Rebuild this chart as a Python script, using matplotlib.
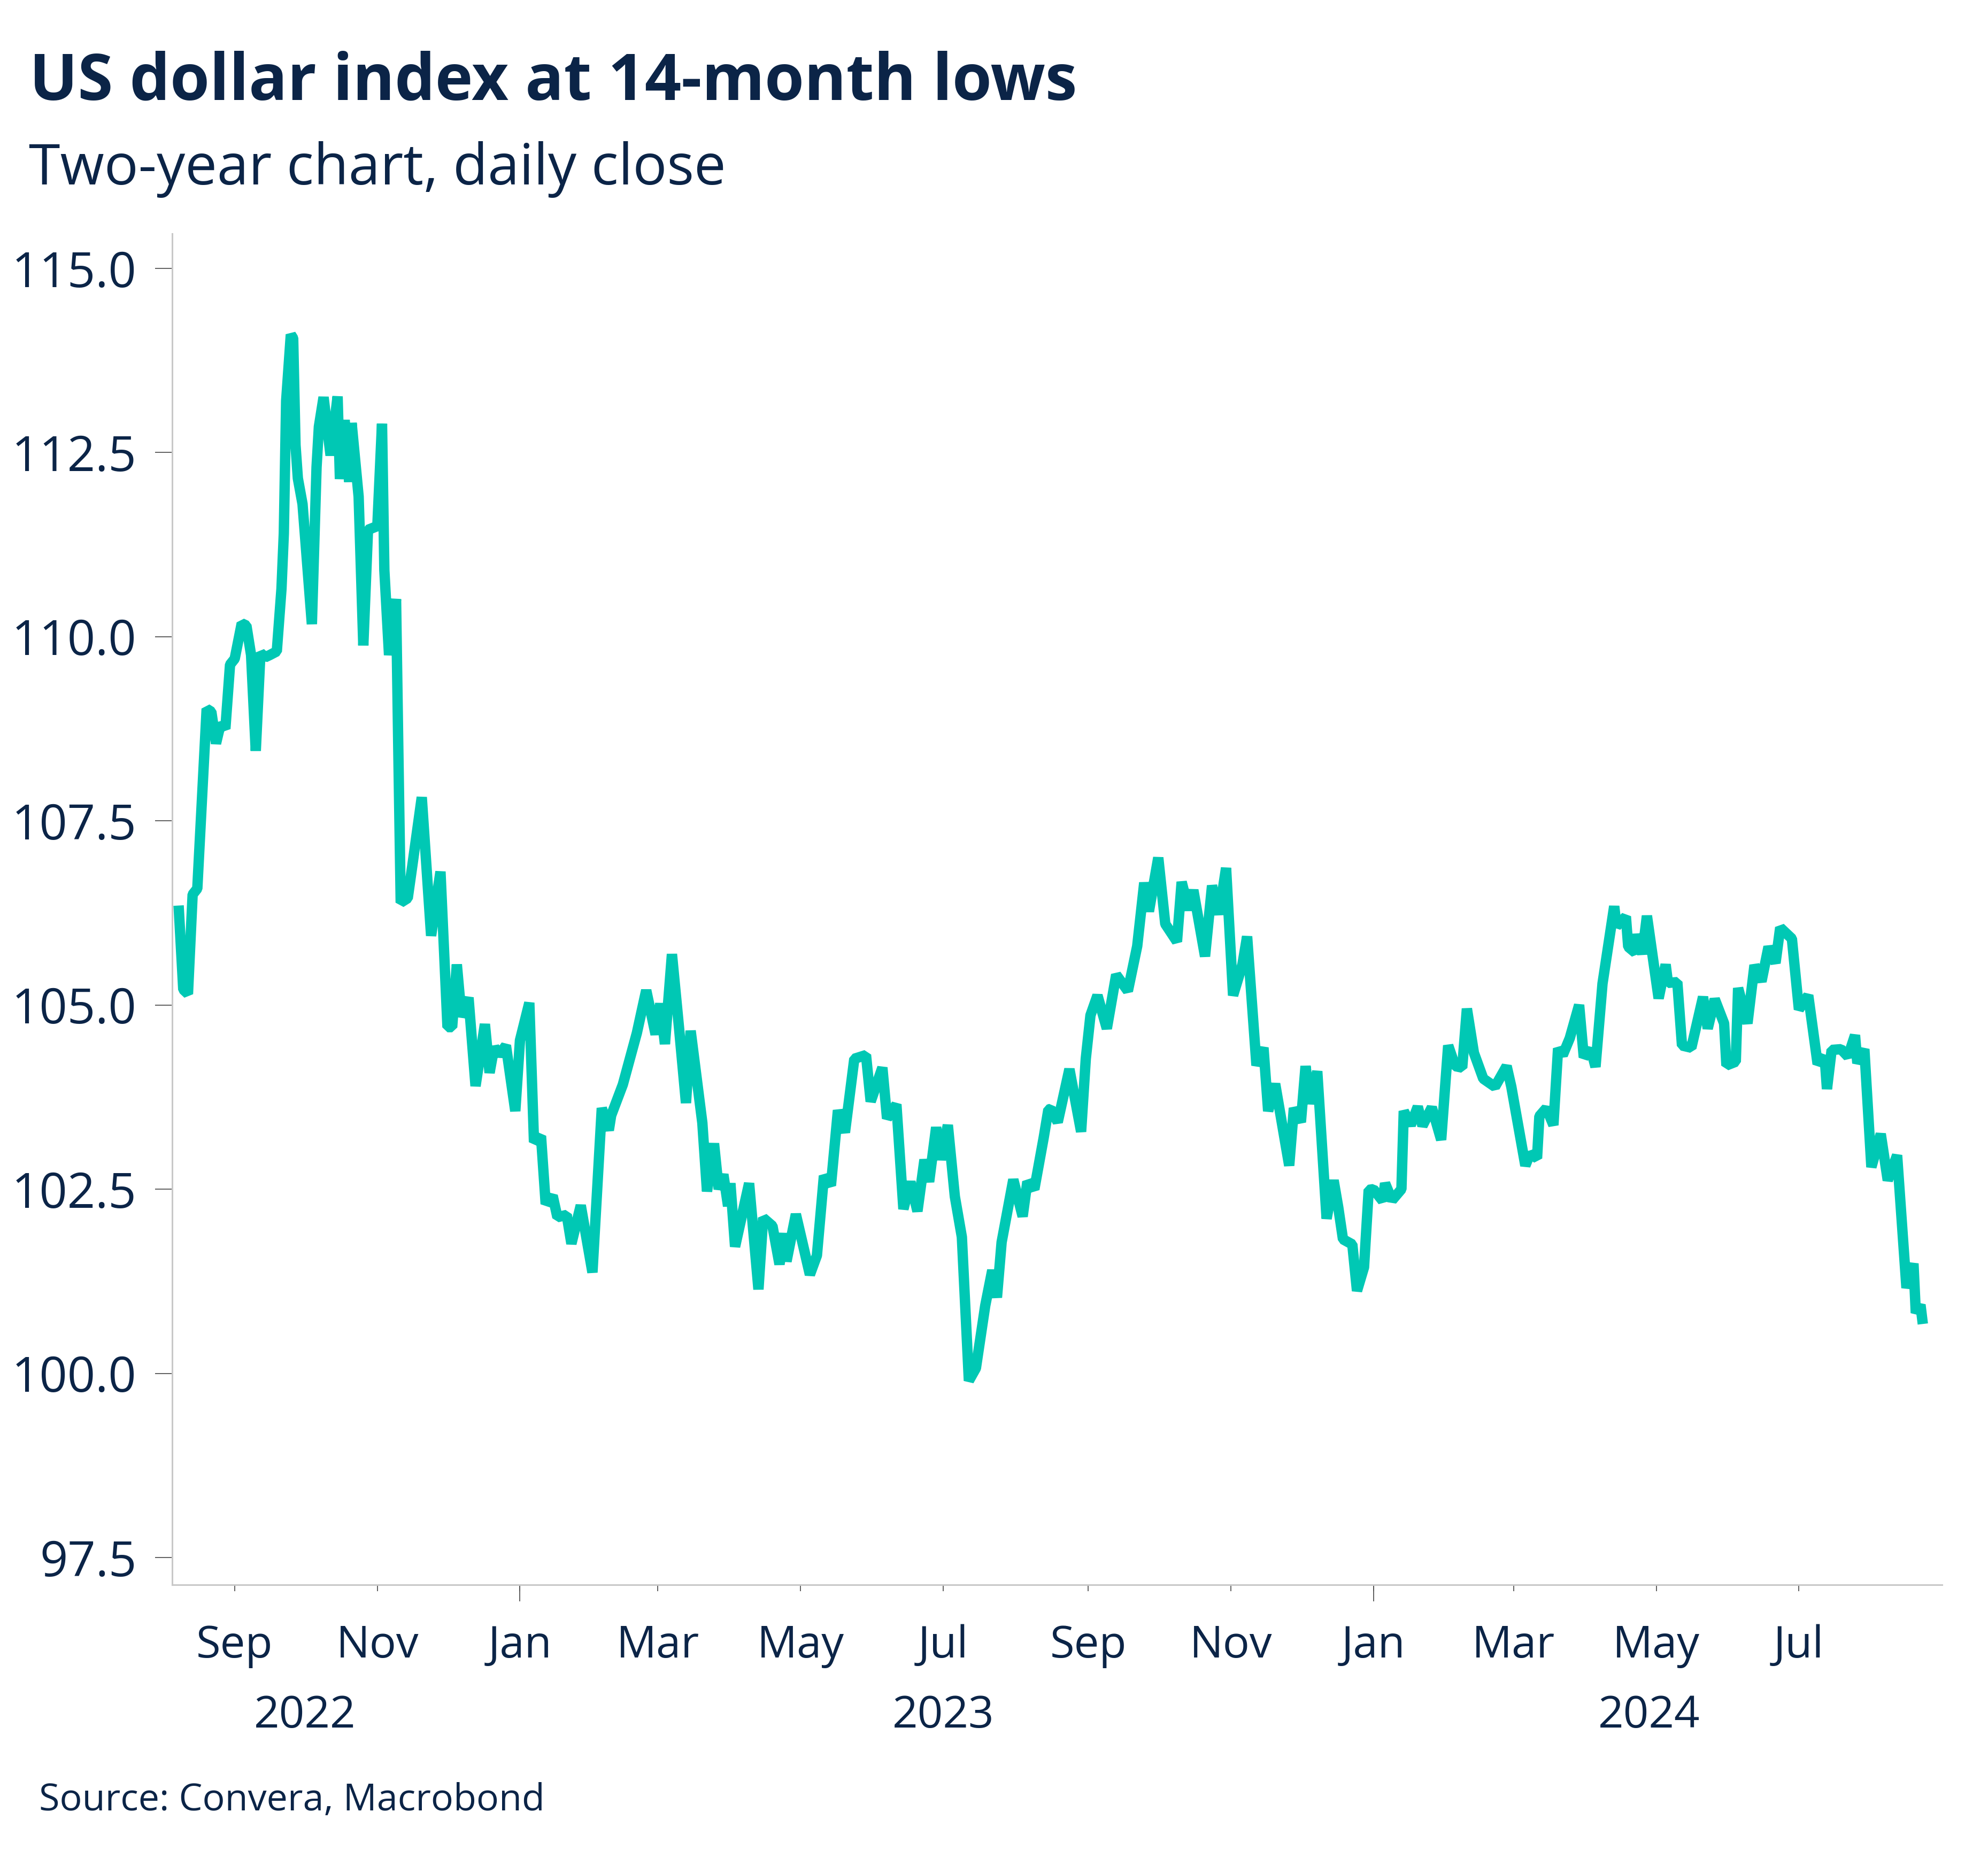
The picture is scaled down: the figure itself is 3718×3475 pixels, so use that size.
import matplotlib
matplotlib.use('Agg')
import matplotlib.pyplot as plt
import matplotlib.dates as mdates
import pandas as pd

# ---------------- data ----------------
dates = [
    '2022-08-08', '2022-08-10', '2022-08-12', '2022-08-14', '2022-08-16', '2022-08-18',
    '2022-08-20', '2022-08-22', '2022-08-24', '2022-08-26', '2022-08-28', '2022-08-30',
    '2022-09-01', '2022-09-04', '2022-09-06', '2022-09-08', '2022-09-10', '2022-09-12',
    '2022-09-14', '2022-09-16', '2022-09-19', '2022-09-21', '2022-09-22', '2022-09-23',
    '2022-09-25', '2022-09-26', '2022-09-27', '2022-09-28', '2022-09-30', '2022-10-04',
    '2022-10-06', '2022-10-07', '2022-10-09', '2022-10-12', '2022-10-15', '2022-10-16',
    '2022-10-18', '2022-10-20', '2022-10-21', '2022-10-24', '2022-10-26', '2022-10-28',
    '2022-11-01', '2022-11-03', '2022-11-04', '2022-11-06', '2022-11-09', '2022-11-10',
    '2022-11-11', '2022-11-14', '2022-11-16', '2022-11-20', '2022-11-24', '2022-11-28',
    '2022-12-01', '2022-12-03', '2022-12-05', '2022-12-07', '2022-12-10', '2022-12-13',
    '2022-12-17', '2022-12-19', '2022-12-21', '2022-12-23', '2022-12-26', '2022-12-30',
    '2023-01-01', '2023-01-05', '2023-01-07', '2023-01-10', '2023-01-12', '2023-01-15',
    '2023-01-17', '2023-01-21', '2023-01-23', '2023-01-27', '2023-02-01', '2023-02-05',
    '2023-02-08', '2023-02-09', '2023-02-14', '2023-02-20', '2023-02-24', '2023-02-28',
    '2023-03-02', '2023-03-04', '2023-03-07', '2023-03-10', '2023-03-13', '2023-03-15',
    '2023-03-20', '2023-03-22', '2023-03-25', '2023-03-27', '2023-03-29', '2023-03-31',
    '2023-04-01', '2023-04-03', '2023-04-09', '2023-04-13', '2023-04-15', '2023-04-19',
    '2023-04-22', '2023-04-24', '2023-04-25', '2023-04-29', '2023-05-05', '2023-05-08',
    '2023-05-11', '2023-05-14', '2023-05-17', '2023-05-20', '2023-05-24', '2023-05-29',
    '2023-05-31', '2023-06-05', '2023-06-07', '2023-06-11', '2023-06-14', '2023-06-17',
    '2023-06-20', '2023-06-23', '2023-06-25', '2023-06-28', '2023-06-30', '2023-07-03',
    '2023-07-06', '2023-07-09', '2023-07-12', '2023-07-15', '2023-07-19', '2023-07-22',
    '2023-07-24', '2023-07-26', '2023-07-31', '2023-08-04', '2023-08-06', '2023-08-09',
    '2023-08-13', '2023-08-15', '2023-08-16', '2023-08-19', '2023-08-24', '2023-08-29',
    '2023-08-31', '2023-09-02', '2023-09-05', '2023-09-09', '2023-09-13', '2023-09-18',
    '2023-09-22', '2023-09-25', '2023-09-27', '2023-10-01', '2023-10-04', '2023-10-09',
    '2023-10-11', '2023-10-14', '2023-10-16', '2023-10-21', '2023-10-24', '2023-10-27',
    '2023-10-30', '2023-11-02', '2023-11-06', '2023-11-08', '2023-11-12', '2023-11-15',
    '2023-11-17', '2023-11-20', '2023-11-26', '2023-11-28', '2023-12-01', '2023-12-03',
    '2023-12-05', '2023-12-08', '2023-12-12', '2023-12-15', '2023-12-17', '2023-12-19',
    '2023-12-23', '2023-12-25', '2023-12-28', '2023-12-30', '2024-01-01', '2024-01-05',
    '2024-01-06', '2024-01-09', '2024-01-13', '2024-01-14', '2024-01-17', '2024-01-20',
    '2024-01-22', '2024-01-26', '2024-01-30', '2024-02-02', '2024-02-05', '2024-02-08',
    '2024-02-10', '2024-02-13', '2024-02-17', '2024-02-22', '2024-02-27', '2024-02-29',
    '2024-03-06', '2024-03-08', '2024-03-11', '2024-03-12', '2024-03-15', '2024-03-18',
    '2024-03-20', '2024-03-22', '2024-03-25', '2024-03-29', '2024-03-31', '2024-04-03',
    '2024-04-05', '2024-04-08', '2024-04-13', '2024-04-14', '2024-04-18', '2024-04-19',
    '2024-04-22', '2024-04-23', '2024-04-25', '2024-04-27', '2024-05-02', '2024-05-05',
    '2024-05-06', '2024-05-10', '2024-05-12', '2024-05-16', '2024-05-21', '2024-05-23',
    '2024-05-26', '2024-05-30', '2024-05-31', '2024-06-04', '2024-06-05', '2024-06-09',
    '2024-06-12', '2024-06-15', '2024-06-18', '2024-06-21', '2024-06-23', '2024-06-28',
    '2024-07-01', '2024-07-05', '2024-07-09', '2024-07-12', '2024-07-13', '2024-07-15',
    '2024-07-19', '2024-07-22', '2024-07-25', '2024-07-26', '2024-07-29', '2024-08-01',
    '2024-08-05', '2024-08-08', '2024-08-12', '2024-08-16', '2024-08-19', '2024-08-20',
    '2024-08-22', '2024-08-23',
]
values = [
    106.35, 105.21, 105.15, 106.50, 106.58, 107.80,
    109.02, 108.98, 108.55, 108.82, 108.75, 109.62,
    109.70, 110.18, 110.15, 109.75, 108.45, 109.78,
    109.72, 109.75, 109.80, 110.65, 111.40, 113.20,
    114.10, 114.05, 112.60, 112.15, 111.80, 110.17,
    112.30, 112.85, 113.25, 112.46, 113.26, 112.14,
    112.94, 112.10, 112.90, 111.90, 109.88, 111.45,
    111.50, 112.89, 110.90, 109.75, 110.51, 108.40,
    106.39, 106.45, 106.90, 107.82, 105.94, 106.81,
    104.70, 104.70, 105.55, 104.84, 105.10, 103.90,
    104.74, 104.08, 104.43, 104.32, 104.45, 103.56,
    104.52, 105.03, 103.14, 103.22, 102.30, 102.41,
    102.12, 102.15, 101.76, 102.28, 101.37, 103.60,
    103.30, 103.50, 103.92, 104.62, 105.20, 104.60,
    105.02, 104.47, 105.69, 104.70, 103.67, 104.65,
    103.40, 102.47, 103.12, 102.50, 102.70, 102.27,
    102.58, 101.72, 102.58, 101.14, 102.11, 102.00,
    101.48, 101.90, 101.52, 102.16, 101.34, 101.60,
    102.68, 102.55, 103.57, 103.27, 104.27, 104.32,
    103.69, 104.15, 103.46, 103.65, 102.23, 102.60,
    102.20, 102.90, 102.60, 103.34, 102.90, 103.37,
    102.40, 101.85, 99.90, 100.07, 100.92, 101.40,
    101.03, 101.78, 102.63, 102.13, 102.60, 102.50,
    103.20, 103.58, 103.59, 103.41, 104.13, 103.28,
    104.27, 104.86, 105.13, 104.68, 105.41, 105.19,
    105.80, 106.66, 106.27, 107.00, 106.10, 105.86,
    106.67, 106.29, 106.56, 105.66, 106.62, 106.23,
    106.86, 105.13, 105.55, 105.93, 104.18, 104.42,
    103.56, 103.93, 102.82, 103.60, 103.41, 104.17,
    103.66, 104.10, 102.10, 102.62, 102.25, 101.82,
    101.75, 101.12, 101.44, 102.49, 102.50, 102.34,
    102.58, 102.35, 102.50, 103.56, 103.37, 103.62,
    103.36, 103.61, 103.17, 104.45, 104.17, 104.15,
    104.95, 104.35, 104.00, 103.89, 104.17, 103.89,
    102.82, 102.98, 102.92, 103.49, 103.60, 103.37,
    104.41, 104.32, 104.55, 105.00, 104.29, 104.40,
    104.16, 105.29, 106.34, 106.07, 106.20, 105.79,
    105.71, 105.96, 105.69, 106.21, 105.09, 105.55,
    105.30, 105.31, 104.45, 104.42, 105.11, 104.68,
    105.08, 104.75, 104.18, 104.23, 105.23, 104.75,
    105.54, 105.32, 105.79, 105.57, 106.05, 105.90,
    104.94, 105.13, 104.20, 104.30, 103.86, 104.39,
    104.40, 104.30, 104.59, 104.21, 104.40, 102.80,
    103.25, 102.62, 102.96, 101.16, 101.49, 100.82,
    100.93, 100.67,
]
y_ticks = [97.5, 100.0, 102.5, 105.0, 107.5, 110.0, 112.5, 115.0]
year_labels = ['2022', '2023', '2024']
year_label_dates = ['2022-10-01', '2023-07-01', '2024-04-28']

title = 'US dollar index at 14-month lows'
subtitle = 'Two-year chart, daily close'
source = 'Source: Convera, Macrobond'

# ---------------- style ----------------
TEXT = '#0b2447'
LINE = '#00c8b4'
SPINE = '#c8c8c8'
TICK = '#555555'

plt.rcParams['font.family'] = ['Open Sans', 'DejaVu Sans']

W, H = 3718, 3475
fig = plt.figure(figsize=(W / 100, H / 100), dpi=100)
left, right, top, bottom = 322 / W, 3632 / W, 1 - 437 / H, 1 - 2964 / H
ax = fig.add_axes([left, bottom, right - left, top - bottom])

ax.plot(pd.to_datetime(dates), values, color=LINE, lw=14,
        solid_joinstyle='bevel', solid_capstyle='butt')

ax.set_xlim(pd.Timestamp('2022-08-05 06:00'), pd.Timestamp('2024-08-31 05:00'))
ax.set_ylim(97.13, 115.47)
ax.set_yticks(y_ticks)
ax.set_yticklabels([f'{v:.1f}' for v in y_ticks])

ax.xaxis.set_major_locator(mdates.MonthLocator(bymonth=[1, 3, 5, 7, 9, 11]))
ax.xaxis.set_major_formatter(mdates.DateFormatter('%b'))
ax.xaxis.set_minor_locator(mdates.MonthLocator(bymonth=[1]))
ax.xaxis.remove_overlapping_locs = False

ax.tick_params(axis='x', which='major', length=8.6, width=1.3, color=TICK,
               pad=44, labelsize=60, labelcolor=TEXT)
ax.tick_params(axis='x', which='minor', length=22, width=1.3, color=TICK)
ax.tick_params(axis='y', length=23, width=1.3, color=TICK, pad=25,
               labelsize=66, labelcolor=TEXT)

for s in ['top', 'right']:
    ax.spines[s].set_visible(False)
for s in ['left', 'bottom']:
    ax.spines[s].set_color(SPINE)
    ax.spines[s].set_linewidth(2.2)

for lab, d in zip(year_labels, year_label_dates):
    ax.annotate(lab, xy=(mdates.date2num(pd.Timestamp(d)), 0),
                xycoords=('data', 'axes fraction'), xytext=(0, -147),
                textcoords='offset points', ha='center', va='top',
                fontsize=60, color=TEXT)

t1 = fig.text(55 / W, 1 - 187 / H, title, fontsize=88, fontweight='bold',
              color=TEXT, ha='left', va='baseline')
t2 = fig.text(54 / W, 1 - 345 / H, subtitle, fontsize=78, color=TEXT,
              ha='left', va='baseline')
t3 = fig.text(73 / W, 1 - 3386 / H, source, fontsize=54, color=TEXT,
              ha='left', va='baseline')

# fit the header / footer text widths to the reference widths
fig.canvas.draw()
r = fig.canvas.get_renderer()
for t, target in [(t1, 1960), (t2, 1305), (t3, 945)]:
    w = t.get_window_extent(r).width
    t.set_fontsize(t.get_fontsize() * target / w)

fig.savefig('out.png', dpi=100, facecolor='white')
